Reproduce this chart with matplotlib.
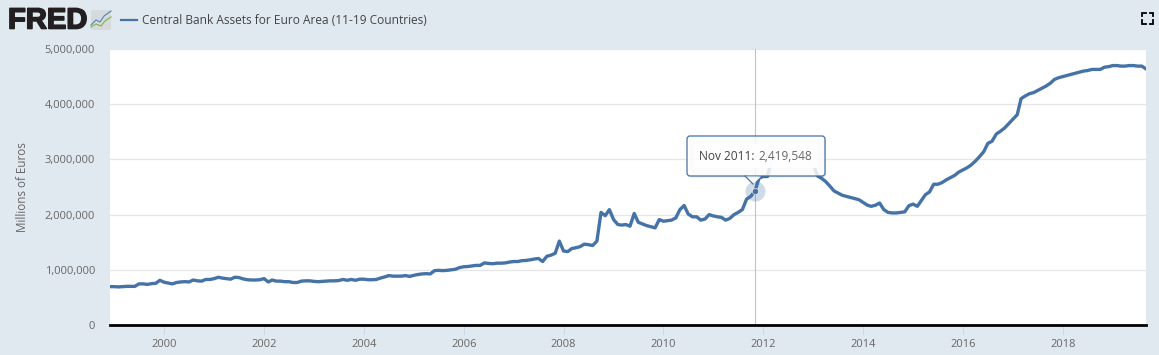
import numpy as np
import pandas as pd
import matplotlib
matplotlib.use('Agg')
import matplotlib.pyplot as plt
from matplotlib.patches import FancyBboxPatch, Polygon, Rectangle
import matplotlib.patheffects as pe

# monthly values, millions of millions of euros
vals_1998 = [0.695]
vals_1999 = [0.695, 0.69, 0.695, 0.70, 0.70, 0.70, 0.745, 0.745, 0.735, 0.75, 0.755, 0.81]
vals_2000 = [0.775, 0.76, 0.745, 0.77, 0.78, 0.785, 0.78, 0.815, 0.80, 0.795, 0.825, 0.825]
vals_2001 = [0.84, 0.865, 0.85, 0.84, 0.83, 0.865, 0.86, 0.835, 0.82, 0.815, 0.815, 0.82]
vals_2002 = [0.84, 0.78, 0.815, 0.795, 0.795, 0.785, 0.785, 0.77, 0.77, 0.795, 0.80, 0.80]
vals_2003 = [0.79, 0.785, 0.79, 0.795, 0.80, 0.80, 0.805, 0.825, 0.81, 0.825, 0.81, 0.83]
vals_2004 = [0.83, 0.82, 0.82, 0.825, 0.85, 0.87, 0.895, 0.885, 0.885, 0.885, 0.895, 0.88]
vals_2005 = [0.90, 0.915, 0.925, 0.93, 0.925, 0.985, 0.99, 0.985, 0.99, 1.0, 1.01, 1.04]
vals_2006 = [1.055, 1.06, 1.07, 1.08, 1.08, 1.125, 1.115, 1.11, 1.12, 1.12, 1.125, 1.14]
vals_2007 = [1.15, 1.15, 1.165, 1.17, 1.18, 1.195, 1.205, 1.15, 1.245, 1.265, 1.30, 1.52]
vals_2008 = [1.34, 1.33, 1.385, 1.40, 1.42, 1.465, 1.455, 1.44, 1.52, 2.04, 1.98, 2.09]
vals_2009 = [1.91, 1.82, 1.81, 1.82, 1.79, 2.02, 1.86, 1.83, 1.80, 1.78, 1.76, 1.91]
vals_2010 = [1.88, 1.89, 1.90, 1.94, 2.09, 2.165, 2.01, 1.96, 1.96, 1.90, 1.92, 2.0]
vals_2011 = [1.975, 1.96, 1.95, 1.90, 1.93, 2.0, 2.04, 2.09, 2.28, 2.33, 2.419548, 2.66]
vals_2012 = [2.69, 2.69, 2.98, 3.0, 3.02, 3.05, 3.09, 3.06, 3.05, 3.03, 3.0, 2.96]
vals_2013 = [2.90, 2.70, 2.66, 2.60, 2.52, 2.43, 2.39, 2.35, 2.33, 2.31, 2.29, 2.27]
vals_2014 = [2.22, 2.17, 2.15, 2.17, 2.21, 2.09, 2.04, 2.03, 2.03, 2.04, 2.05, 2.16]
vals_2015 = [2.19, 2.15, 2.25, 2.36, 2.41, 2.55, 2.55, 2.58, 2.63, 2.67, 2.71, 2.77]
vals_2016 = [2.81, 2.85, 2.90, 2.97, 3.05, 3.14, 3.29, 3.33, 3.46, 3.51, 3.57, 3.65]
vals_2017 = [3.73, 3.81, 4.10, 4.15, 4.19, 4.21, 4.25, 4.29, 4.33, 4.38, 4.45, 4.48]
vals_2018 = [4.50, 4.52, 4.54, 4.56, 4.58, 4.60, 4.61, 4.63, 4.63, 4.63, 4.67, 4.68]
vals_2019 = [4.70, 4.70, 4.69, 4.69, 4.70, 4.70, 4.69, 4.69, 4.64]

year_lists = [vals_1998, vals_1999, vals_2000, vals_2001, vals_2002, vals_2003, vals_2004,
              vals_2005, vals_2006, vals_2007, vals_2008, vals_2009, vals_2010, vals_2011,
              vals_2012, vals_2013, vals_2014, vals_2015, vals_2016, vals_2017, vals_2018, vals_2019]

y_ticks = [0, 1000000, 2000000, 3000000, 4000000, 5000000]
y_labels = ['0', '1,000,000', '2,000,000', '3,000,000', '4,000,000', '5,000,000']
x_years = [2000, 2002, 2004, 2006, 2008, 2010, 2012, 2014, 2016, 2018]

title = 'Central Bank Assets for Euro Area (11-19 Countries)'
hover_date = '2011-11-01'
hover_value = 2419548

dates = pd.date_range('1998-12-01', '2019-09-01', freq='MS')
values = np.concatenate(year_lists) * 1e6

BG = '#e1e9f0'
BLUE = '#4572a7'
TEXT = '#666666'
plt.rcParams['font.family'] = ['Open Sans', 'DejaVu Sans']

W, H = 1159, 355
fig = plt.figure(figsize=(W / 100, H / 100), dpi=100, facecolor=BG)
ax = fig.add_axes([110 / W, 1 - 325 / H, 1036 / W, 276 / H])

ax.plot(dates, values, color=BLUE, lw=2.4, solid_joinstyle='round', zorder=3)
ax.set_xlim(dates[0], dates[-1])
ax.set_ylim(0, 5000000)

ax.set_yticks(y_ticks)
ax.set_yticklabels(y_labels, fontsize=8.0, color=TEXT)
ax.tick_params(axis='y', length=0, pad=10.8)
ax.set_xticks(pd.to_datetime([f'{y}-01-01' for y in x_years]))
ax.set_xticklabels([str(y) for y in x_years], fontsize=8.0, color=TEXT)
ax.tick_params(axis='x', length=6.5, width=0.75, color='#ccd6eb', pad=3.5)
ax.grid(axis='y', color='#e6e6e6', lw=0.9, zorder=1)
ax.set_axisbelow(True)
for s in ['top', 'left', 'right']:
    ax.spines[s].set_visible(False)
ax.spines['bottom'].set_color('black')
ax.spines['bottom'].set_linewidth(2)
ax.set_ylabel('Millions of Euros', fontsize=8.4, color=TEXT, va='center')
ax.yaxis.set_label_coords((23 - 110) / 1036, 0.5)

# hover crosshair and point
hx = pd.Timestamp(hover_date)
ax.axvline(hx, color='#bcc5ce', lw=0.8, zorder=2)
ax.plot([hx], [hover_value], 'o', ms=14.5, color=BLUE, alpha=0.25, mew=0, zorder=4)
ax.plot([hx], [hover_value], 'o', ms=4.5, color=BLUE, mec='white', mew=0.4, zorder=5)

# overlay in pixel coords for the page furniture
ov = fig.add_axes([0, 0, 1, 1], zorder=10)
ov.set_xlim(0, W)
ov.set_ylim(H, 0)
ov.axis('off')

# tooltip
ov.add_patch(FancyBboxPatch((689, 138), 137, 39.5, boxstyle='round,pad=0,rounding_size=3',
                            fc='black', ec='none', alpha=0.1))
ov.add_patch(FancyBboxPatch((687, 136), 138, 40, boxstyle='round,pad=0,rounding_size=3',
                            fc='white', ec='none', alpha=0.85))
ov.add_patch(FancyBboxPatch((687, 136), 138, 40, boxstyle='round,pad=0,rounding_size=3',
                            fc='none', ec=BLUE, lw=0.9))
ov.add_patch(Polygon([(745, 176.6), (753, 184), (761, 176.6)], closed=True, fc='#f6f8fa', ec='none'))
ov.plot([745, 753], [176, 184], color=BLUE, lw=0.9)
ov.add_patch(Rectangle((694, 144), 123, 24, fc='white', ec='none', alpha=0.9))
ov.text(699, 156, 'Nov 2011:', fontsize=8.6, color='#444444', va='center', ha='left')
ov.text(758, 156, '2,419,548', fontsize=8.6, color=TEXT, va='center', ha='left')

# header
t = ov.text(8, 20.5, 'FRED', fontsize=21, family='Liberation Sans', weight='bold', color='#231f20', va='center', ha='left')
t.set_path_effects([pe.withStroke(linewidth=1.2, foreground='#231f20')])
ov.add_patch(FancyBboxPatch((91, 10), 20, 20, boxstyle='round,pad=0,rounding_size=2', fc='#d5dadd', ec='none'))
ov.plot([91, 96, 100, 104, 111], [25, 20, 22, 16, 11], color='#5b8db8', lw=0.9)
ov.plot([91, 96, 101, 105, 111], [27, 24, 26, 21, 17], color='#8db255', lw=0.9)
ov.plot([121, 137], [20, 20], color=BLUE, lw=1.6)
ov.text(142, 20, title, fontsize=8.55, color='#444444', va='center', ha='left')

# fullscreen icon
for cx, cy, dx, dy in [(1142, 12.5, 1, 1), (1153, 12.5, -1, 1), (1142, 23.5, 1, -1), (1153, 23.5, -1, -1)]:
    ov.plot([cx + 3.5 * dx, cx, cx], [cy, cy, cy + 3.5 * dy], color='black', lw=1.3, solid_joinstyle='miter')

fig.savefig('out.png', dpi=100, facecolor=BG)
